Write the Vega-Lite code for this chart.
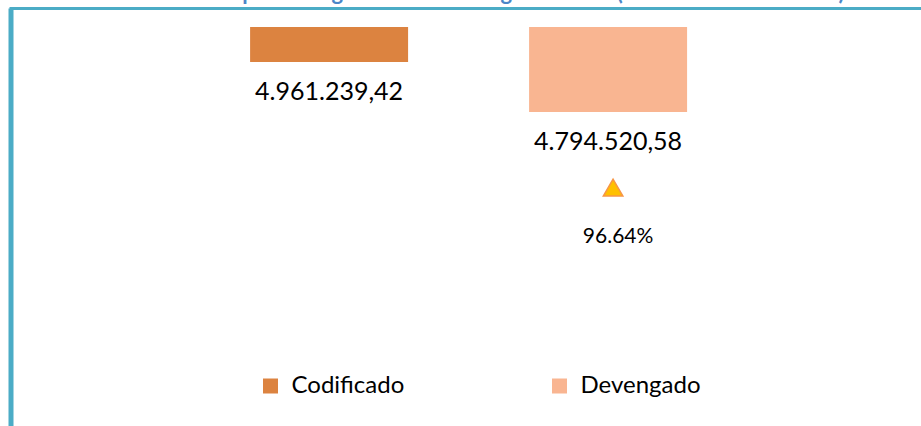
{
  "$schema": "https://vega.github.io/schema/vega-lite/v6.json",
  "autosize": {"type": "none"},
  "width": 910.5,
  "height": 418,
  "padding": {"left": 10.5, "top": 8, "right": 0, "bottom": 0},
  "background": "white",
  "title": {
    "text": "Gráfico 1: Presupuesto vigente con corte agosto 2023 (en millones de dólares)",
    "anchor": "middle",
    "orient": "top",
    "offset": 3,
    "fontSize": 22,
    "fontWeight": "bold",
    "font": "Lato",
    "color": "#4A86C8"
  },
  "config": {
    "view": {"stroke": null},
    "locale": {
      "number": {"decimal": ",", "thousands": ".", "grouping": [3], "currency": ["$", ""]}
    },
    "font": "Lato"
  },
  "data": {
    "values": [
      {"categoria": "Codificado", "monto": 4961239.42, "pct": null, "pct_label": null},
      {"categoria": "Devengado", "monto": 4794520.58, "pct": 0.9664, "pct_label": "96.64%"}
    ]
  },
  "encoding": {
    "x": {
      "field": "categoria",
      "type": "nominal",
      "sort": ["Codificado", "Devengado"],
      "scale": {"paddingInner": 0.4337, "paddingOuter": 0.8486, "align": 0.506},
      "axis": {
        "orient": "top",
        "domain": true,
        "domainColor": "#4BACC6",
        "domainWidth": 3,
        "domainCap": "square",
        "ticks": false,
        "labels": false,
        "title": null
      }
    }
  },
  "resolve": {"scale": {"y": "independent"}},
  "layer": [
    {
      "layer": [
        {
          "mark": {"type": "bar"},
          "encoding": {
            "y": {
              "field": "monto",
              "type": "quantitative",
              "scale": {"domain": [3747500, 5141300], "zero": false, "nice": false},
              "axis": {
                "domain": true,
                "domainColor": "#4BACC6",
                "domainWidth": 5,
                "ticks": false,
                "labels": false,
                "grid": false,
                "title": null
              }
            },
            "y2": {"datum": 5078000},
            "color": {
              "field": "categoria",
              "type": "nominal",
              "scale": {"domain": ["Codificado", "Devengado"], "range": ["#DC8340", "#F9B591"]},
              "legend": {
                "orient": "none",
                "direction": "horizontal",
                "legendX": 248,
                "legendY": 366,
                "title": null,
                "symbolType": "square",
                "symbolSize": 225,
                "symbolStrokeWidth": 0,
                "labelFontSize": 24,
                "labelFont": "Lato",
                "labelColor": "#000000",
                "labelOffset": 9,
                "columnPadding": 143,
                "padding": 0
              }
            }
          }
        },
        {
          "mark": {"type": "text", "baseline": "alphabetic", "dy": 38, "fontSize": 25, "color": "#000000"},
          "encoding": {
            "y": {"field": "monto", "type": "quantitative"},
            "text": {"field": "monto", "type": "quantitative", "format": ",.2f"}
          }
        }
      ]
    },
    {
      "transform": [{"filter": "datum.pct != null"}],
      "layer": [
        {
          "mark": {"type": "point", "shape": "triangle-up", "filled": true, "size": 380, "fill": "#FFC000", "stroke": "#F79646", "strokeWidth": 1.5, "opacity": 1, "xOffset": 5},
          "encoding": {
            "y": {
              "field": "pct",
              "type": "quantitative",
              "scale": {"domain": [0.59, 1.25], "zero": false, "nice": false},
              "axis": null
            }
          }
        },
        {
          "mark": {"type": "text", "baseline": "middle", "dx": 10, "dy": 49, "fontSize": 21, "color": "#000000"},
          "encoding": {
            "y": {"field": "pct", "type": "quantitative"},
            "text": {"field": "pct_label", "type": "nominal"}
          }
        }
      ]
    }
  ]
}
